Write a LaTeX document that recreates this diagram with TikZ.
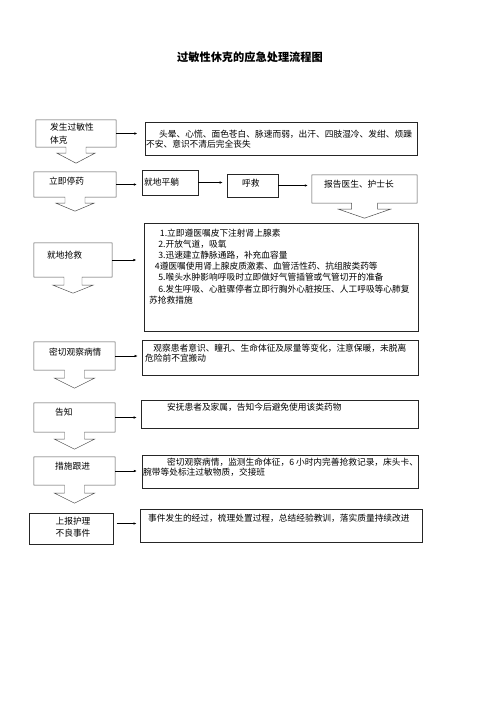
\documentclass[tikz,border=0pt]{standalone}
\usepackage{fontspec}
\setmainfont{Noto Sans CJK SC}
\usetikzlibrary{arrows.meta,calc,fit,positioning}
\tikzset{
  box/.style={draw=black!85, line width=.6pt, inner sep=0pt},
  callbox/.style={inner sep=0pt},
  callline/.style={draw=black!70, line width=.6pt, line join=miter},
  txt/.style={inner sep=0pt, anchor=north west, align=left, font=\fontsize{10.5pt}{13pt}\selectfont},
  arr/.style={-{Latex[length=3.5pt,width=3pt]}, line width=.6pt},
}
% outline of a box with a down arrow below it
% #1 node, #2 half stem, #3 half head, #4 stem length, #5 head length
\newcommand\downcallout[5]{%
  \draw[callline] ($(#1.south)+(#2,0)$) -- (#1.south east) -- (#1.north east)
    -- (#1.north west) -- (#1.south west) -- ($(#1.south)+(-#2,0)$)
    -- ++(0,#4) -- ++(#2-#3,0) -- ++(#3,#5) -- ++(#3,-#5) -- ++(#2-#3,0) -- cycle;}
\begin{document}
\begin{tikzpicture}[x=0.4234mm,y=-0.4234mm]
\path[use as bounding box] (0,0) rectangle (496,702);
\node[font=\fontsize{13.5pt}{16pt}\selectfont\bfseries] (title) at (250,57) {过敏性休克的应急处理流程图};

% row 1
\node[callbox, fit={(36,120) (116,147)}] (shock) {};
\downcallout{shock}{10}{19}{6}{10}
\node[txt, font=\fontsize{10.5pt}{16.5pt}\selectfont] at (50,122.5) {发生过敏性\\体克};
\node[box, fit={(145,122) (417,155)}] (symp) {};
\node[txt] at (146,129.5) {\hspace{1.5em}头晕、心慌、面色苍白、脉速而弱，出汗、四肢湿冷、发绀、烦躁\\不安、意识不清后完全丧失};
\draw[arr, shorten >=9pt] (shock.east) -- (shock.east -| symp.west);

% row 2
\node[callbox, fit={(34,172) (116,197)}] (stop) {};
\downcallout{stop}{10}{19}{6}{8}
\node[txt] at (49,176.5) {立即停药};
\node[box, fit={(142,170) (198,195)}] (lie) {};
\node[txt] at (144,177.5) {就地平躺};
\node[box, fit={(227,174) (278,197)}] (call) {};
\node[txt] at (242,178.5) {呼救};
\node[callbox, fit={(312,175) (417,203)}] (report) {};
\downcallout{report}{13}{26}{6}{9}
\node[txt] at (324,180) {报告医生、护士长};
\draw[arr, shorten >=6pt] (stop.east) -- (stop.east -| lie.west);
\draw[arr, shorten >=5pt] (lie.east) -- (lie.east -| call.west);
\draw[arr, shorten >=5pt] (call.east) -- (call.east -| report.west);

% row 3
\node[callbox, fit={(34,243) (112,277)}] (rescue) {};
\downcallout{rescue}{9}{20}{8}{8}
\node[txt] at (47,250.5) {就地抢救};
\node[box, fit={(144,223) (418,331)}] (measures) {};
\node[txt, font=\fontsize{10.5pt}{13.5pt}\selectfont] at (149,228.5) {\hspace{13pt}1.立即遵医嘱皮下注射肾上腺素\\
  \hspace{11pt}2.开放气道，吸氧\\
  \hspace{11pt}3.迅速建立静脉通路，补充血容量\\
  \hspace{7pt}4遵医嘱使用肾上腺皮质激素、血管活性药、抗组胺类药等\\
  \hspace{11pt}5.喉头水肿影响呼吸时立即做好气管插管或气管切开的准备\\
  \hspace{11pt}6.发生呼吸、心脏骤停者立即行胸外心脏按压、人工呼吸等心肺复\\
  苏抢救措施};
\draw[arr, shorten >=9pt] (rescue.east) -- (rescue.east -| measures.west);

% row 4
\node[callbox, fit={(34,342) (115,370)}] (observe) {};
\downcallout{observe}{10}{20}{8}{10}
\node[txt] at (49,347.5) {密切观察病情};
\node[box, fit={(142,340) (418,375)}] (obsinfo) {};
\node[txt, font=\fontsize{10.5pt}{12.5pt}\selectfont] at (145,343.5) {\hspace{10pt}观察患者意识、瞳孔、生命体征及尿量等变化，注意保暖，未脱离\\危险前不宜搬动};
\draw[arr, shorten >=5pt] (observe.east) -- (observe.east -| obsinfo.west);

% row 5
\node[callbox, fit={(34,403) (115,432)}] (inform) {};
\downcallout{inform}{10}{20}{7}{10}
\node[txt] at (55,407.5) {告知};
\node[box, fit={(141,400) (418,428)}] (comfort) {};
\node[txt] at (167,402.5) {安抚患者及家属，告知今后避免使用该类药物};
\draw[arr, shorten >=5pt] (inform.east) -- (inform.east -| comfort.west);

% row 6
\node[callbox, fit={(34,457) (115,485)}] (follow) {};
\downcallout{follow}{10}{20}{8}{10}
\node[txt] at (55,461.5) {措施跟进};
\node[box, fit={(142,455) (418,488)}] (followinfo) {};
\node[txt, font=\fontsize{10.5pt}{12.5pt}\selectfont] at (143,457.5) {\hspace{29pt}密切观察病情，监测生命体征，6 小时内完善抢救记录，床头卡、\\腕带等处标注过敏物质，交接班};
\draw[arr, shorten >=6pt] (follow.east) -- (follow.east -| followinfo.west);

% row 7
\node[box, fit={(29,513) (113,544)}] (adverse) {};
\node[font=\fontsize{10.5pt}{14.4pt}\selectfont, align=center, inner sep=0pt] at (73,527) {上报护理\\不良事件};
\node[box, fit={(140,509) (422,542)}] (event) {};
\node[txt] at (148,513.5) {事件发生的经过，梳理处置过程，总结经验教训，落实质量持续改进};
\draw[arr, shorten <=4pt, shorten >=4pt] ([yshift=6pt]adverse.east) -- ([yshift=6pt]adverse.east -| event.west);
\end{tikzpicture}
\end{document}
